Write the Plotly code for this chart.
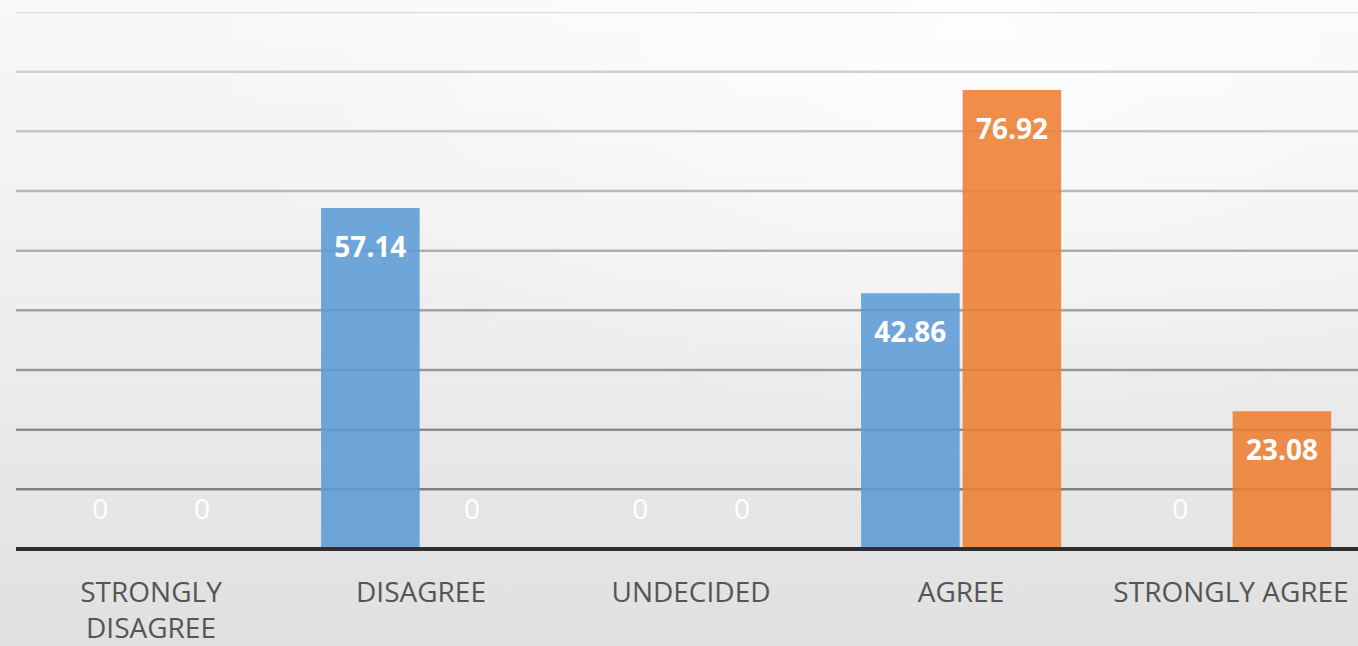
import base64
import plotly.graph_objects as go

categories = ["STRONGLY<br>DISAGREE", "DISAGREE", "UNDECIDED", "AGREE", "STRONGLY AGREE"]
series_a = [0, 57.14, 0, 42.86, 0]
series_b = [0, 0, 0, 76.92, 23.08]
y_ticks = [10, 20, 30, 40, 50, 60, 70, 80, 90]

W, H = 1358, 646
ML, MR, MT, MB = 16, 0, 12, 97
pw, ph = W - ML - MR, H - MT - MB
cat_px = 270.0

x_idx = list(range(len(categories)))
bw = 0.365
off_a = -0.37
off_b = 0.006

BLUE = "rgba(91,155,213,0.88)"
ORANGE = "rgba(237,125,49,0.88)"

fig = go.Figure()
fig.add_trace(go.Bar(x=x_idx, y=series_a, width=bw, offset=off_a, marker=dict(color=BLUE, line=dict(width=0)),
                     hoverinfo="skip", showlegend=False))
fig.add_trace(go.Bar(x=x_idx, y=series_b, width=bw, offset=off_b, marker=dict(color=ORANGE, line=dict(width=0)),
                     hoverinfo="skip", showlegend=False))

def label_y(v):
    return v - 7.0 if v > 0 else 6.2

for vals, off in ((series_a, off_a), (series_b, off_b)):
    xs = [i + off + bw / 2 for i in x_idx]
    ys = [label_y(v) for v in vals]
    txt = [("<b>%s</b>" % f"{v:g}") if v > 0 else "0" for v in vals]
    fig.add_trace(go.Scatter(x=xs, y=ys, mode="text", text=txt,
                             textfont=dict(family="Open Sans", size=28, color="white"),
                             hoverinfo="skip", showlegend=False))

# gridlines (lighter near top, darker near bottom)
n = len(y_ticks)
for k, t in enumerate(y_ticks):
    frac = k / (n - 1)
    g = int(0x80 + (0xdc - 0x80) * frac)
    fig.add_shape(type="line", xref="paper", yref="y", x0=0, x1=1, y0=t, y1=t,
                  line=dict(color=f"rgb({g},{g},{g})", width=2.5), layer="below")
# baseline (axis line)
fig.add_shape(type="line", xref="paper", yref="paper", x0=0, x1=1, y0=0, y1=0,
              line=dict(color="#2e2e2e", width=4), layer="above")

svg = f'''<svg xmlns="http://www.w3.org/2000/svg" width="{W}" height="{H}">
<defs>
<linearGradient id="g" x1="0" y1="0" x2="0" y2="1">
<stop offset="0" stop-color="#f8f8f8"/>
<stop offset="0.45" stop-color="#efefef"/>
<stop offset="1" stop-color="#e0e0e0"/>
</linearGradient>
<radialGradient id="r" cx="0.72" cy="0.05" r="0.6">
<stop offset="0" stop-color="#ffffff" stop-opacity="0.75"/>
<stop offset="1" stop-color="#ffffff" stop-opacity="0"/>
</radialGradient>
</defs>
<rect width="{W}" height="{H}" fill="url(#g)"/>
<rect width="{W}" height="{H}" fill="url(#r)"/>
</svg>'''
src = "data:image/svg+xml;base64," + base64.b64encode(svg.encode()).decode()

fig.add_layout_image(dict(source=src, xref="paper", yref="paper",
                          x=-ML / pw, y=1 + MT / ph, sizex=W / pw, sizey=H / ph,
                          xanchor="left", yanchor="top", sizing="stretch", layer="below"))

fig.update_layout(
    width=W, height=H,
    margin=dict(l=ML, r=MR, t=MT, b=MB),
    paper_bgcolor="#ececec", plot_bgcolor="rgba(0,0,0,0)",
    barmode="overlay",
    xaxis=dict(range=[-0.5, -0.5 + pw / cat_px], tickvals=x_idx, ticktext=categories,
               showgrid=False, zeroline=False, showline=False, ticks="",
               ticklabelstandoff=24,
               tickfont=dict(family="Open Sans", size=28, color="#555555")),
    yaxis=dict(range=[0, 90], showgrid=False, zeroline=False, showticklabels=False, showline=False),
    font=dict(family="Open Sans"),
)

fig.write_html("out.html", config={"displayModeBar": False}, post_script=(
    "document.body.style.margin='0';document.body.style.padding='0';"
    "document.body.style.overflow='hidden';document.body.style.background='#ececec';"))
